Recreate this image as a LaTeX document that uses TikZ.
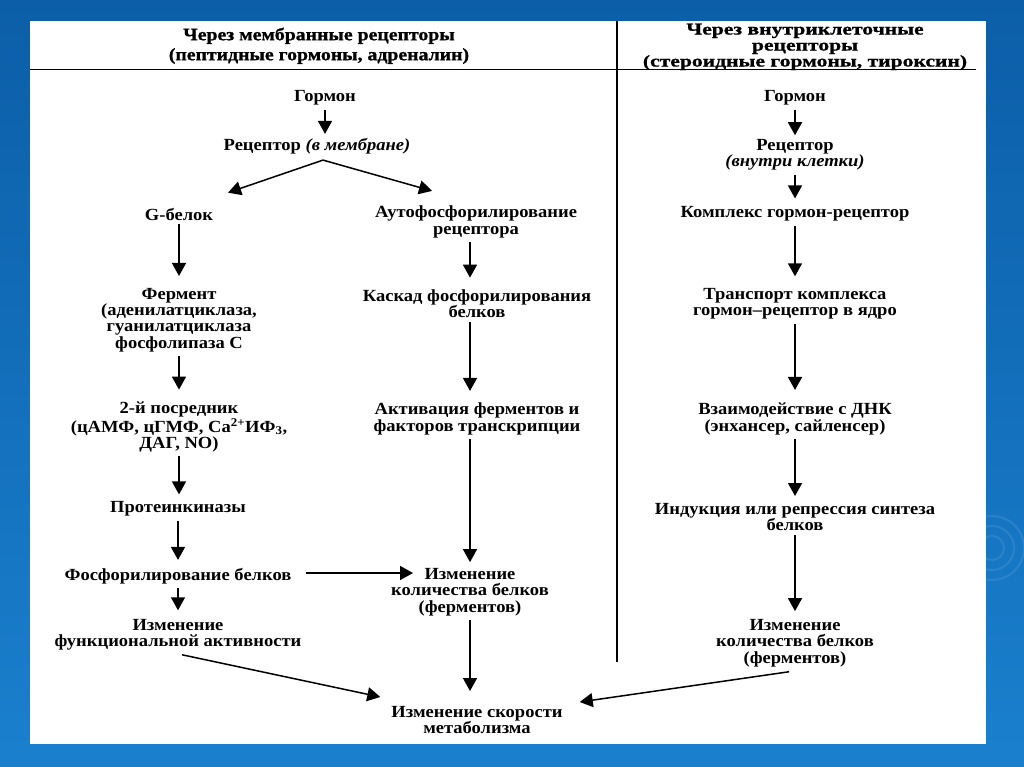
\documentclass[tikz,border=0pt]{standalone}
\usepackage{fontspec}
\setmainfont{Liberation Serif}[FakeStretch=1.09]
\newfontfamily\hdrfontL{Liberation Serif}[FakeStretch=1.13, BoldFeatures={FakeBold=1.0}]
\newfontfamily\hdrfontR{Liberation Serif}[FakeStretch=1.31, BoldFeatures={FakeBold=1.0}]
\usetikzlibrary{arrows.meta}
\definecolor{bgtop}{HTML}{0C5EA8}
\definecolor{bgbot}{HTML}{1A80CE}
\tikzset{
  lbl/.style={font=\fontsize{17}{16.3}\selectfont\bfseries, align=center, inner sep=4pt, yshift=-3pt},
  hdrL/.style={font=\fontsize{17.5}{20}\hdrfontL\bfseries, align=center, inner sep=0pt, anchor=north},
  hdrR/.style={font=\fontsize{16.5}{16}\hdrfontR\bfseries, align=center, inner sep=0pt, anchor=north},
  arr/.style={line width=1.5pt, -{Triangle[width=14pt,length=13pt]}},
  gap/.style={shorten >=#1},
  rulel/.style={line width=1.3pt}
}
\begin{document}
\begin{tikzpicture}[x=1pt,y=-1pt]
\useasboundingbox (0,0) rectangle (1024,767);
% background
\shade[top color=bgtop,bottom color=bgbot] (0,0) rectangle (1024,767);
\foreach \r in {12,22,32}{\draw[white,opacity=0.09,line width=2pt] (992,548) circle (\r);}
\fill[white] (30,21) rectangle (986,744);
% frame lines
\draw[rulel] (30,69.5) -- (976,69.5);
\draw[rulel] (617,21) -- (617,662);
% headers
\node[hdrL] (hl) at (319,27.5) {Через мембранные рецепторы\\(пептидные гормоны, адреналин)};
\node[hdrR] (hr) at (805,23.5) {Через внутриклеточные\\рецепторы\\(стероидные гормоны, тироксин)};
% left column
\node[lbl] (h1) at (325,95) {Гормон};
\node[lbl] (r1) at (317,143) {Рецептор \textit{(в мембране)}};
\node[lbl] (g) at (179,211) {G-белок};
\node[lbl] (au) at (476,219) {Аутофосфорилирование\\рецептора};
\node[lbl] (f) at (179,317) {Фермент\\(аденилатциклаза,\\гуанилатциклаза\\фосфолипаза С};
\node[lbl] (k) at (477,301) {Каскад фосфорилирования\\белков};
\node[lbl] (p2) at (179,424) {2-й посредник\\(цАМФ, цГМФ, Ca\textsuperscript{2+}ИФ\textsubscript{3},\\ДАГ, NO)};
\node[lbl] (a) at (477,416) {Активация ферментов и\\факторов транскрипции};
\node[lbl] (pk) at (178,506) {Протеинкиназы};
\node[lbl] (fb) at (178,573) {Фосфорилирование белков};
\node[lbl] (iq) at (470,589) {Изменение\\количества белков\\(ферментов)};
\node[lbl] (ifa) at (178,632) {Изменение\\функциональной активности};
\node[lbl] (im) at (477,717) {Изменение скорости\\метаболизма};
% right column
\node[lbl] (h2) at (795,95) {Гормон};
\node[lbl] (r2) at (795,152) {Рецептор\\\textit{(внутри клетки)}};
\node[lbl] (kg) at (795,211) {Комплекс гормон-рецептор};
\node[lbl] (t) at (795,301) {Транспорт комплекса\\гормон–рецептор в ядро};
\node[lbl] (d) at (795,416) {Взаимодействие с ДНК\\(энхансер, сайленсер)};
\node[lbl] (ind) at (795,514) {Индукция или репрессия синтеза\\белков};
\node[lbl] (iq2) at (795,640) {Изменение\\количества белков\\(ферментов)};
% connectors left
\draw[arr] (h1.south) -- (h1.south |- r1.north);
\coordinate (sp) at ([shift={(6pt,-2pt)}]r1.south);
\draw[arr] (sp) -- ([shift={(49pt,11pt)}]g.north);
\draw[arr] (sp) -- ([shift={(-44pt,11pt)}]au.north);
\draw[arr,gap=8pt] (g.south) -- (g.south |- f.north);
\draw[arr,gap=8pt] ([xshift=-6pt]au.south) -- ([xshift=-6pt]au.south |- k.north);
\draw[arr,gap=8pt] (f.south) -- (f.south |- p2.north);
\draw[arr,gap=8pt] ([xshift=-7pt]k.south) -- ([xshift=-7pt]k.south |- a.north);
\draw[arr,gap=3pt] (p2.south) -- (p2.south |- pk.north);
\draw[arr,gap=4pt] (pk.south) -- (pk.south |- fb.north);
\draw[arr] ([shift={(10pt,3pt)}]fb.east) -- ([shift={(26pt,3pt)}]fb.east -| iq.west);
\draw[arr,gap=2pt] ([xshift=-7pt]a.south) -- (iq.north);
\draw[arr,gap=5pt] (fb.south) -- (fb.south |- ifa.north);
\draw[arr] ([xshift=4pt]ifa.south) -- ([shift={(-7pt,5pt)}]im.north west);
\draw[arr,gap=11pt] (iq.south) -- (iq.south |- im.north);
\draw[arr,shorten <=6pt] (iq2.south) -- ([shift={(13pt,0pt)}]im.north east);
% connectors right
\draw[arr] (h2.south) -- (r2.north);
\draw[arr,gap=4pt] (r2.south) -- (kg.north);
\draw[arr,gap=8pt] (kg.south) -- (t.north);
\draw[arr,gap=9pt] (t.south) -- (d.north);
\draw[arr,gap=3pt] (d.south) -- (ind.north);
\draw[arr,gap=4pt] (ind.south) -- (iq2.north);
\end{tikzpicture}
\end{document}
